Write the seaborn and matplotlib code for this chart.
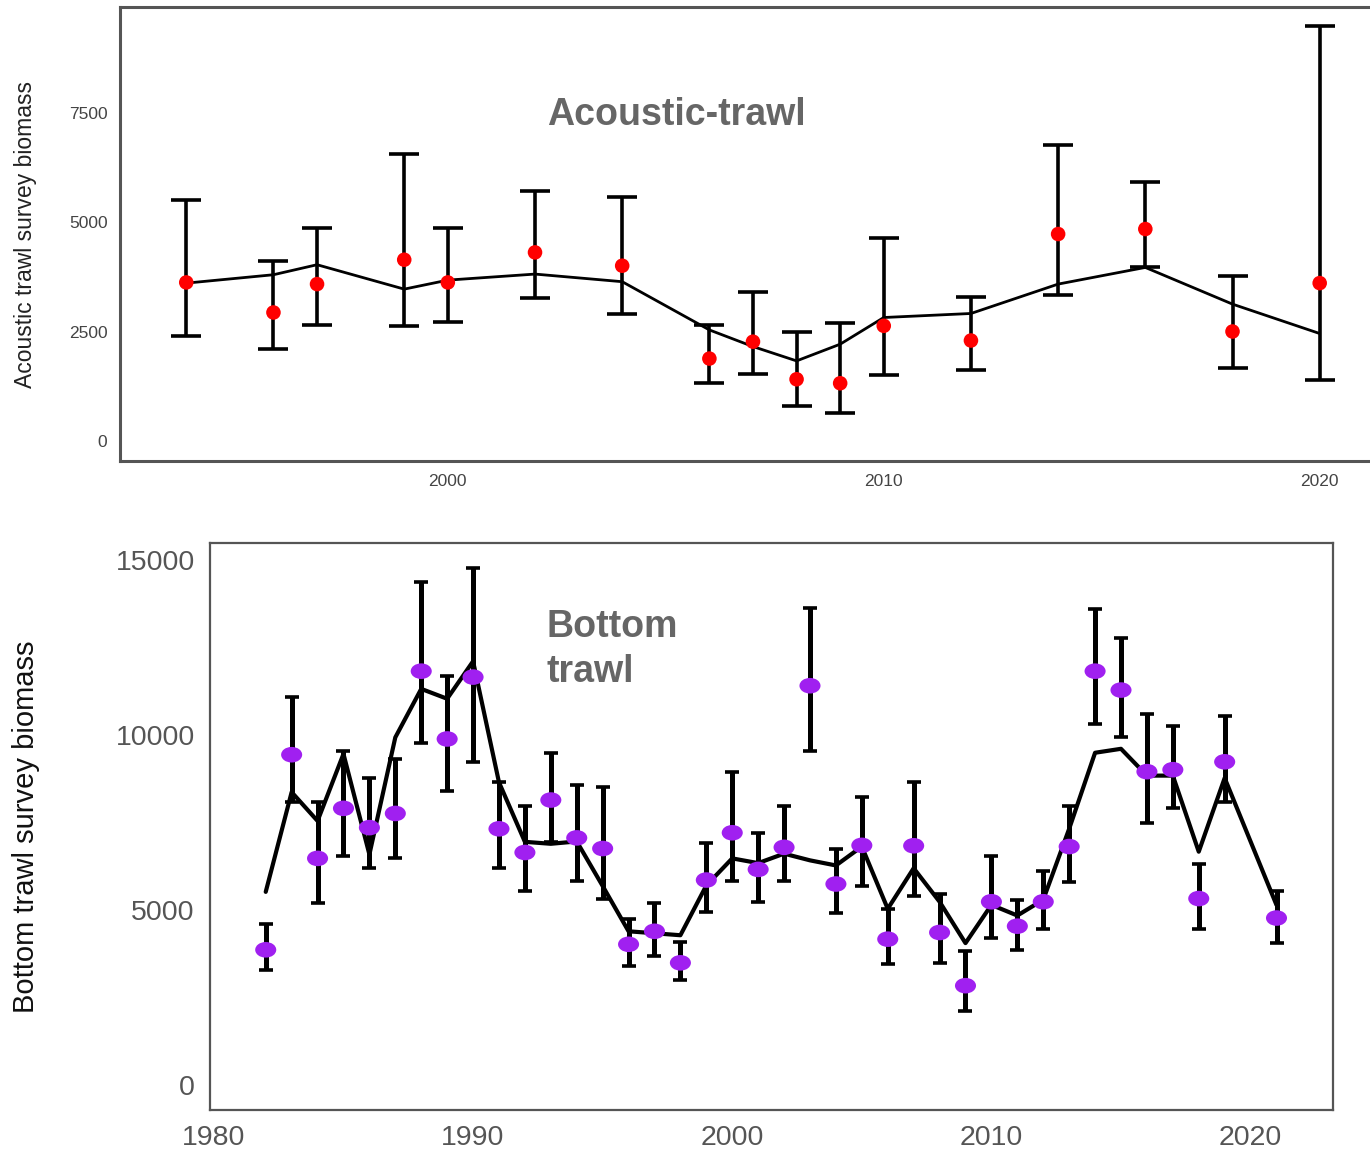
import matplotlib
matplotlib.use("Agg")
import matplotlib.pyplot as plt
import matplotlib.font_manager as fm
from matplotlib.path import Path
from matplotlib.transforms import Affine2D
import seaborn as sns
import pandas as pd

# ---------------- data ----------------
# Acoustic-trawl survey
at_years = [1994, 1996, 1997, 1999, 2000, 2002, 2004, 2006, 2007, 2008, 2009,
            2010, 2012, 2014, 2016, 2018, 2020]
at_obs = [3626, 2939, 3588, 4145, 3626, 4313, 4008, 1885, 2271, 1412, 1321,
          2634, 2298, 4733, 4847, 2504, 3611]
at_low = [2397, 2099, 2649, 2626, 2725, 3267, 2908, 1336, 1542, 802, 649,
          1511, 1618, 3328, 3969, 1679, 1389]
at_high = [5511, 4122, 4870, 6573, 4870, 5725, 5573, 2656, 3397, 2504, 2695,
           4634, 3282, 6771, 5916, 3763, 9481]
at_fit = [3610, 3802, 4031, 3473, 3679, 3817, 3643, 2540, 2160, 1832, 2214,
          2824, 2916, 3588, 3969, 3130, 2458]

# Bottom trawl survey
bt_years = [1982, 1983, 1984, 1985, 1986, 1987, 1988, 1989, 1990, 1991, 1992,
            1993, 1994, 1995, 1996, 1997, 1998, 1999, 2000, 2001, 2002, 2003,
            2004, 2005, 2006, 2007, 2008, 2009, 2010, 2011, 2012, 2013, 2014,
            2015, 2016, 2017, 2018, 2019, 2021]
bt_obs = [3863, 9437, 6475, 7905, 7354, 7759, 11824, 9887, 11655, 7320, 6644,
          8142, 7061, 6757, 4020, 4392, 3491, 5856, 7207, 6160, 6791, 11408,
          5743, 6847, 4167, 6836, 4358, 2838, 5236, 4538, 5236, 6813, 11824,
          11284, 8953, 9009, 5327, 9234, 4771]
bt_low = [3288, 8074, 5214, 6532, 6194, 6475, 9764, 8390, 9234, 6194, 5552,
          6948, 5833, 5327, 3401, 3694, 3007, 4932, 5833, 5236, 5822, 9550,
          4921, 5687, 3457, 5405, 3491, 2106, 4189, 3863, 4471, 5800, 10304,
          9944, 7489, 7905, 4471, 8074, 4054]
bt_high = [4595, 11092, 8074, 9550, 8784, 9324, 14358, 11689, 14775, 8649, 7973,
           9493, 8581, 8525, 4730, 5214, 4077, 6926, 8930, 7207, 7962, 13626,
           6757, 8221, 5034, 8649, 5462, 3829, 6532, 5293, 6103, 7973, 13592,
           12782, 10608, 10248, 6306, 10552, 5541]
bt_fit = [5518, 8367, 7545, 9459, 6588, 9932, 11318, 11036, 12106, 8649, 6948,
          6892, 6959, 5687, 4392, 4336, 4279, 5700, 6475, 6340, 6610, 6419,
          6273, 6813, 5034, 6194, 5236, 4054, 5146, 4842, 5293, 7320, 9493,
          9606, 8840, 8840, 6666, 8771, 5143]

at_df = pd.DataFrame({"year": at_years, "obs": at_obs, "low": at_low,
                      "high": at_high, "fit": at_fit})
bt_df = pd.DataFrame({"year": bt_years, "obs": bt_obs, "low": bt_low,
                      "high": bt_high, "fit": bt_fit})

# ---------------- style ----------------
sns.set_theme(style="white")
names = {f.name for f in fm.fontManager.ttflist}
base_font = "Liberation Sans" if "Liberation Sans" in names else "DejaVu Sans"
narrow_font = "Liberation Sans Narrow" if "Liberation Sans Narrow" in names else base_font
plt.rcParams["font.family"] = [base_font, "DejaVu Sans"]

W, H = 1370, 1149
fig = plt.figure(figsize=(W / 100, H / 100), dpi=100)

def frac_axes(left, top, right, bottom):
    return fig.add_axes([left / W, 1 - bottom / H, (right - left) / W, (bottom - top) / H])

spine_col = "#555555"
tick_col = "#555555"

# ---------------- top panel: acoustic-trawl ----------------
ax1 = frac_axes(120, 7, 1372, 461)
sns.lineplot(data=at_df, x="year", y="fit", ax=ax1, color="black", lw=2.0,
             sort=True, estimator=None)
ax1.errorbar(at_df["year"], at_df["obs"],
             yerr=[at_df["obs"] - at_df["low"], at_df["high"] - at_df["obs"]],
             fmt="none", ecolor="black", elinewidth=2.6, capsize=11, capthick=2.6,
             zorder=3)
sns.scatterplot(data=at_df, x="year", y="obs", ax=ax1, color="#FF0000", s=110,
                edgecolor="none", zorder=4)
ax1.set_xlim(1992.48, 2021.2)
ax1.set_ylim(-457, 9924)
ax1.set_xticks([2000, 2010, 2020])
ax1.set_yticks([0, 2500, 5000, 7500])
ax1.set_xlabel("")
ax1.set_ylabel("Acoustic trawl survey biomass", fontsize=16.5, color="#222222")
ax1.yaxis.set_label_coords(-0.066, 0.5)
ax1.tick_params(axis="both", labelsize=12.5, colors=tick_col, length=6, width=1.2,
                direction="out", pad=3)
for lab in ax1.get_xticklabels() + ax1.get_yticklabels():
    lab.set_color("#444444")
for side in ["left", "bottom", "top"]:
    ax1.spines[side].set_color(spine_col)
    ax1.spines[side].set_linewidth(2.2)
ax1.spines["right"].set_visible(False)
ax1.text(0.341, 0.762, "Acoustic-trawl", transform=ax1.transAxes,
         fontsize=27, fontweight="bold", color="#666666", family=narrow_font,
         ha="left", va="center")

# ---------------- bottom panel: bottom trawl ----------------
ax2 = frac_axes(210, 543, 1333, 1110)
sns.lineplot(data=bt_df, x="year", y="fit", ax=ax2, color="black", lw=3.0,
             sort=True, estimator=None)
ax2.errorbar(bt_df["year"], bt_df["obs"],
             yerr=[bt_df["obs"] - bt_df["low"], bt_df["high"] - bt_df["obs"]],
             fmt="none", ecolor="black", elinewidth=3.6, capsize=5, capthick=2.6,
             zorder=3)
ellipse = Path.unit_circle().transformed(Affine2D().scale(1.35, 1.0))
sns.scatterplot(data=bt_df, x="year", y="obs", ax=ax2, color="#A020F0", s=230,
                marker=ellipse, edgecolor="none", zorder=4)
ax2.set_xlim(1979.85, 2023.18)
ax2.set_ylim(-714, 15486)
ax2.set_xticks([1980, 1990, 2000, 2010, 2020])
ax2.set_yticks([0, 5000, 10000, 15000])
ax2.set_xlabel("")
ax2.set_ylabel("Bottom trawl survey biomass", fontsize=21, color="#111111",
               family=narrow_font)
ax2.yaxis.set_label_coords(-0.151, 0.5)
ax2.tick_params(axis="both", labelsize=20.5, colors=tick_col, length=7, width=1.5,
                direction="out", pad=4)
for lab in ax2.get_xticklabels() + ax2.get_yticklabels():
    lab.set_color("#555555")
for side in ["left", "bottom", "top", "right"]:
    ax2.spines[side].set_color(spine_col)
    ax2.spines[side].set_linewidth(1.6)
ax2.text(0.2996, 0.812, "Bottom\ntrawl", transform=ax2.transAxes,
         fontsize=27, fontweight="bold", color="#666666", family=narrow_font,
         ha="left", va="center", linespacing=1.33)

fig.savefig("out.png", dpi=100)
